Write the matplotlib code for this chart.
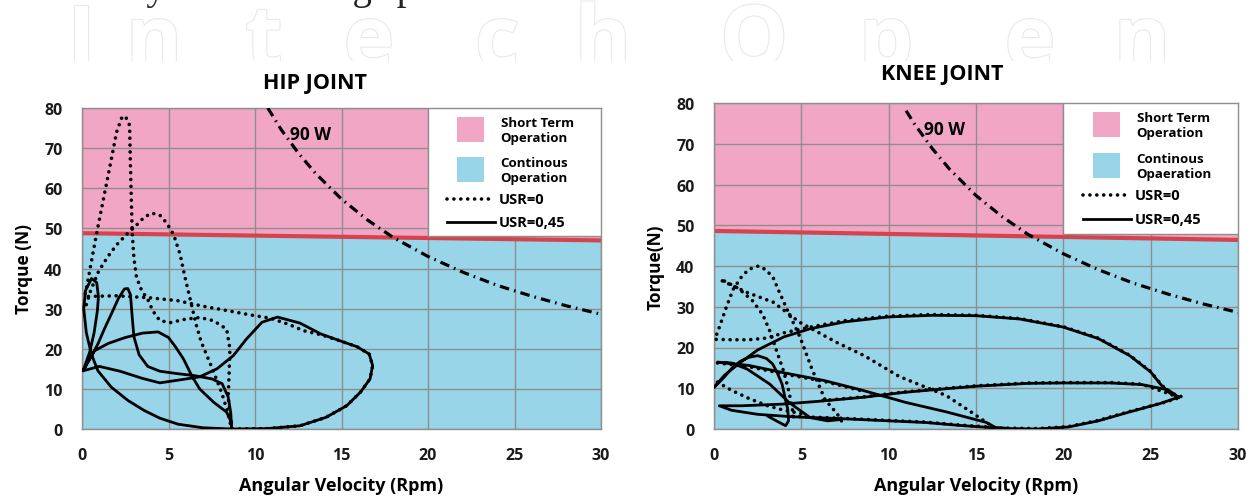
import matplotlib
matplotlib.use('Agg')
import matplotlib.pyplot as plt
import matplotlib.patheffects as pe
import numpy as np
from matplotlib.patches import Rectangle
from matplotlib.transforms import Bbox, TransformedBbox

plt.rcParams['font.family'] = ['Open Sans', 'DejaVu Sans']

nan = np.nan

x_ticks = [0, 5, 10, 15, 20, 25, 30]
y_ticks = [0, 10, 20, 30, 40, 50, 60, 70, 80]

# limit between short term and continuous operation (red line)
hip_limit_x = [0, 30]
hip_limit_y = [48.8, 47.0]
knee_limit_x = [0, 30]
knee_limit_y = [48.6, 46.4]

# 90 W constant power curve
hip_90w_x = [10.74, 11.5, 12.5, 13.5, 15, 16.5, 18, 20, 22, 24, 26, 28, 30]
hip_90w_y = [80.0, 74.7, 68.8, 63.7, 57.3, 52.1, 47.7, 43.0, 39.1, 35.8, 33.1, 30.7, 28.6]
knee_90w_x = [11.0, 11.5, 12.5, 13.5, 15, 16.5, 18, 20, 22, 24, 26, 28, 30]
knee_90w_y = [78.1, 74.7, 68.8, 63.7, 57.3, 52.1, 47.7, 43.0, 39.1, 35.8, 33.1, 30.7, 28.6]

# hip joint, USR=0,45 (solid)
hip_s_x = [8.65, 7.0, 5.55, 4.5, 3.6, 2.66, 1.7, 0.92, 0.54, 0.25, 0.1, 0.2, 0.55, 0.85, 0.95, 0.89, 0.7, 0.44,
           0.06, 0.5, 0.92, 1.3, 1.7, 2.1, 2.45, 2.65, 2.8, 2.9, 3.0, 3.3, 3.8, 4.5, 5.5, 6.5, 7.5, 8.1, 8.45,
           8.6, 8.65, 10.7, 12.6, 14.1, 15.3, 16.1, 16.65, 16.8, 16.6, 15.9, 14.9, 13.8, 12.6, 11.3, 10.4, 9.5,
           8.75, 7.8, 6.8, 5.6, 4.5, 3.5, 2.2, 1.0, 0.06, 0.4, 0.73, 1.5, 2.5, 3.5, 4.4, 5.0, 5.4, 5.86, 6.34,
           6.8, 7.6, 8.36, 8.6, 8.65]
hip_s_y = [0.0, 0.3, 1.2, 2.7, 4.6, 7.1, 10.4, 14.5, 18.7, 24.0, 30.0, 34.5, 37.5, 36.5, 33.0, 29.5, 24.0, 19.1,
           14.5, 17.8, 21.2, 25.0, 28.7, 32.5, 34.9, 35.0, 33.5, 28.0, 23.0, 18.5, 15.6, 14.4, 13.8, 13.3, 12.5,
           11.3, 8.0, 4.0, 0.0, 0.1, 0.8, 2.9, 5.8, 9.2, 12.5, 15.8, 18.7, 20.5, 22.0, 23.7, 26.4, 27.9, 26.6,
           22.4, 18.3, 15.0, 13.0, 12.2, 11.5, 12.6, 14.4, 15.6, 14.5, 17.2, 19.5, 21.3, 22.8, 23.9, 24.2, 22.8,
           20.5, 17.5, 13.3, 10.0, 6.7, 4.2, 2.0, 0.0]

# hip joint, USR=0 (dotted)
hip_d_x = [0.25, 0.5, 0.96, 1.5, 2.0, 2.6, 3.17, 3.6, 4.04, 4.5, 4.9, 5.3, 5.67, 5.96, 6.3, 6.6, 6.9, 7.5, 8.07,
           8.4, 8.65, 8.6, 8.45, 8.5, 8.55, 8.36, 7.6, 6.8, 5.9, 5.1, 4.5, 4.1, 3.8, 3.45, 3.15, 3.0, 2.9, 2.85,
           2.8, 2.75, 2.5, 2.3, 2.0, 1.63, 1.25, 0.87, 0.58, 0.3, 0.15, 2.0, 3.9, 5.5, 7.0, 8.4, 9.9, 10.9,
           12.0, 12.8, 13.8, 14.9, 15.9, 16.6, 16.8, 16.65, 16.1, 15.3, 14.1, 12.6, 10.7, 8.65]
hip_d_y = [31.0, 34.5, 39.3, 43.0, 45.9, 48.6, 50.9, 52.8, 53.8, 53.3, 51.3, 48.4, 43.5, 37.7, 31.5, 26.0, 21.6,
           15.4, 9.1, 4.5, 0.0, 2.0, 8.0, 13.3, 20.0, 24.9, 27.0, 27.8, 27.3, 26.5, 27.0, 29.4, 32.3, 34.5, 37.8,
           42.6, 49.3, 57.5, 65.8, 75.7, 78.0, 77.6, 74.0, 65.8, 57.5, 49.3, 42.6, 36.0, 33.0, 33.2, 32.7, 32.0,
           30.6, 29.5, 28.3, 27.6, 26.0, 24.5, 23.5, 22.0, 20.5, 18.7, 15.8, 12.5, 9.2, 5.8, 2.9, 0.8, 0.1, 0.0]

# knee joint, USR=0,45 (solid)
knee_s_x = [3.1, 3.7, 4.1, 4.27, 4.22, 4.05, 3.9, 3.6, 3.35, 3.0, 2.5, 2.0, 1.5, 1.0, 0.6, 0.0,
            0.6, 1.5, 2.5, 4.0, 5.5, 7.5, 10.0, 12.5, 15.0, 17.5, 20.0, 22.0, 23.8, 25.0, 25.6, 26.1, 26.6,
            25.5, 23.8, 22.0, 20.3, 18.5, 17.0, 16.1, 15.6, 13.3, 11.0, 8.5, 6.3, 4.0, 2.0, 0.2,
            1.0, 1.9, 3.2, 4.3, 5.5, 6.5, 7.2, nan,
            26.6, 26.0, 24.5, 22.7, 20.0, 18.0, 15.0, 12.5, 10.9, 8.6, 6.0, 3.9, 1.6, 0.3,
            1.0, 2.5, 4.5, 7.5, 10.0, 12.1, 14.0, 16.0]
knee_s_y = [3.1, 1.7, 0.8, 2.0, 4.9, 8.0, 11.0, 14.0, 16.0, 17.3, 18.0, 17.6, 16.6, 14.8, 12.8, 10.2,
            13.2, 16.3, 19.4, 22.6, 24.6, 26.3, 27.5, 27.9, 27.8, 27.0, 25.0, 22.2, 18.0, 14.0, 10.8, 8.8, 7.8,
            6.2, 4.2, 2.0, 0.5, 0.0, 0.1, 0.4, 1.6, 4.2, 6.5, 9.5, 11.9, 13.8, 15.6, 16.4,
            16.2, 14.7, 11.0, 6.5, 2.8, 2.0, 2.3, nan,
            7.8, 9.6, 10.9, 11.3, 11.3, 11.2, 10.5, 9.6, 9.0, 7.8, 6.8, 6.1, 5.7, 5.7,
            4.6, 3.6, 3.0, 2.5, 2.0, 1.6, 0.9, 0.3]

# knee joint, USR=0 (dotted)
knee_d_x = [7.3, 7.04, 6.37, 5.6, 4.93, 4.26, 3.7, 3.4, 3.0, 2.55, 2.0, 1.6, 1.1, 0.73, 0.34, 0.05,
            1.0, 2.0, 3.0, 4.0, 5.5, 7.5, 10.0, 12.5, 15.0, 17.5, 20.0, 22.0, 23.8, 25.0, 25.6, 26.1, 26.8,
            25.6, 23.8, 22.0, 20.3, 18.5, 17.0, 16.1,
            15.6, 14.5, 13.3, 10.6, 8.6, 7.0, 4.9, 3.4, 1.9, 1.0, 0.3, nan,
            0.6, 1.4, 2.2, 2.8, 3.2, 3.6, 4.0, 4.3, 4.5, 4.6, nan,
            0.2, 1.0, 2.0, 3.0, 4.0, 5.2, nan,
            26.6, 24.5, 22.7, 20.0, 18.0, 15.0, 12.5, 10.9, 8.6, 6.0, nan,
            4.5, 7.5, 10.0, 12.1, 14.0, 16.0, nan,
            0.2, 2.0, 4.0, 6.3, 8.5]
knee_d_y = [2.0, 3.8, 7.1, 14.8, 22.5, 28.6, 34.0, 37.0, 39.0, 40.0, 39.2, 37.5, 34.3, 30.2, 25.4, 22.0,
            21.9, 21.9, 22.3, 23.6, 25.0, 26.6, 27.7, 28.1, 27.9, 27.1, 25.1, 22.3, 18.1, 14.1, 10.9, 8.9, 7.9,
            6.3, 4.3, 2.1, 0.6, 0.1, 0.2, 0.2,
            1.6, 4.8, 8.2, 12.9, 18.0, 21.3, 26.2, 31.1, 33.5, 35.3, 36.7, nan,
            36.3, 34.5, 31.5, 28.0, 24.0, 19.0, 14.0, 9.0, 4.5, 2.0, nan,
            11.5, 9.5, 7.5, 5.8, 4.6, 3.6, nan,
            7.8, 11.0, 11.4, 11.4, 11.3, 10.6, 9.7, 9.1, 7.9, 6.9, nan,
            3.1, 2.6, 2.1, 1.7, 1.0, 0.4, nan,
            16.2, 15.3, 13.5, 11.7, 9.3]

key_labels = ['Short Term\nOperation', 'USR=0', 'USR=0,45']
hip_cont_label = 'Continous\nOperation'
knee_cont_label = 'Continous\nOpaeration'

PINK = '#F2A6C5'
BLUE = '#98D5E8'
RED = '#D6434C'
GRID = '#8E8E8E'
DOTS = (0, (0.01, 1.9))


def draw_joint(ax, title, ylabel, limit_x, limit_y, p_x, p_y, s_x, s_y, d_x, d_y, cont_label, title_pos):
    ax.set_xlim(0, 30)
    ax.set_ylim(0, 80)
    ax.fill_between(limit_x, limit_y, 80, color=PINK, lw=0, zorder=0.5)
    ax.fill_between(limit_x, 0, limit_y, color=BLUE, lw=0, zorder=0.5)
    ax.plot(limit_x, limit_y, color=RED, lw=3, zorder=2.2, solid_capstyle='butt')

    ax.set_xticks(x_ticks)
    ax.set_yticks(y_ticks)
    ax.grid(True, color=GRID, lw=1.0)
    ax.tick_params(length=0, labelsize=11.5, colors='#1a1a1a')
    ax.tick_params(axis='x', pad=13)
    ax.tick_params(axis='y', pad=14)
    for lab in ax.get_xticklabels() + ax.get_yticklabels():
        lab.set_fontweight('bold')
    for sp in ax.spines.values():
        sp.set_color(GRID)
        sp.set_linewidth(1.0)

    # power curve
    ax.plot(p_x, p_y, color='black', lw=2.3, linestyle=(0, (3.0, 1.6, 0.5, 1.6)), zorder=3)
    ax.text(12.0, 73.6, '90 W', fontsize=12.5, fontweight='bold', va='center', ha='left', zorder=3)

    # torque-speed loops
    ax.plot(d_x, d_y, color='black', lw=2.6, linestyle=DOTS, dash_capstyle='round', zorder=3)
    ax.plot(s_x, s_y, color='black', lw=2.0, zorder=3.1, solid_joinstyle='round')

    # legend box sitting on the red line
    box_bottom = np.interp(20, limit_x, limit_y) + 0.6
    ax.add_patch(Rectangle((20, box_bottom), 10, 80 - box_bottom, facecolor='white',
                           edgecolor=GRID, lw=1.0, zorder=4))
    ax.add_patch(Rectangle((21.7, 71.6), 1.55, 6.2, facecolor=PINK, lw=0, zorder=4.1))
    ax.add_patch(Rectangle((21.7, 61.6), 1.55, 6.2, facecolor=BLUE, lw=0, zorder=4.1))
    ax.text(24.2, 74.6, key_labels[0], fontsize=9.5, fontweight='bold', va='center',
            linespacing=1.2, zorder=4.2)
    ax.text(24.2, 64.6, cont_label, fontsize=9.5, fontweight='bold', va='center',
            linespacing=1.2, zorder=4.2)
    ax.plot([21.1, 23.7], [57.4, 57.4], color='black', lw=2.6, linestyle=DOTS,
            dash_capstyle='round', zorder=4.2)
    ax.text(24.1, 57.4, key_labels[1], fontsize=10.5, fontweight='bold', va='center', zorder=4.2)
    ax.plot([21.1, 23.9], [51.6, 51.6], color='black', lw=2.0, zorder=4.2)
    ax.text(24.1, 51.6, key_labels[2], fontsize=10.5, fontweight='bold', va='center', zorder=4.2)

    ax.text(title_pos[0], title_pos[1], title, transform=ax.transAxes, fontsize=15.5,
            fontweight='bold', ha='center', va='center')
    ax.set_xlabel('Angular Velocity (Rpm)', fontsize=13, fontweight='bold', labelpad=9)
    ax.set_ylabel(ylabel, fontsize=12.5, fontweight='bold', labelpad=8)


fig = plt.figure(figsize=(12.57, 5.02), dpi=100)

# clipped caption line and faint watermark at the top of the page
fig.text(0.004, 1 + 0.5 / 502, 'and 0.5 cycle/s walking speed.', fontsize=28,
         family=['Liberation Serif', 'DejaVu Serif'], va='baseline', ha='left', color='#222222')
clip = TransformedBbox(Bbox([[0, 1 - 62 / 502], [1, 1]]), fig.transFigure)
wm_letters = list('IntechOpen')
wm_px = [82, 154, 264, 369, 497, 603, 754, 886, 1030, 1142]
for ch, px in zip(wm_letters, wm_px):
    t = fig.text(px / 1257, 1 - 68 / 502, ch, fontsize=62, fontweight='bold',
                 family=['Open Sans', 'DejaVu Sans'], ha='center', va='baseline', color='white',
                 path_effects=[pe.Stroke(linewidth=1.6, foreground='#e9e9e9'), pe.Normal()])
    t.set_clip_box(clip)
    t.set_clip_on(True)

ax_hip = fig.add_axes([82 / 1257, 1 - 430 / 502, 519 / 1257, 321 / 502])
ax_knee = fig.add_axes([714 / 1257, 1 - 430 / 502, 524 / 1257, 326 / 502])

draw_joint(ax_hip, 'HIP JOINT', 'Torque (N)', hip_limit_x, hip_limit_y, hip_90w_x, hip_90w_y,
           hip_s_x, hip_s_y, hip_d_x, hip_d_y, hip_cont_label, (0.449, 1.078))
draw_joint(ax_knee, 'KNEE JOINT', 'Torque(N)', knee_limit_x, knee_limit_y, knee_90w_x, knee_90w_y,
           knee_s_x, knee_s_y, knee_d_x, knee_d_y, knee_cont_label, (0.435, 1.089))

fig.savefig('out.png', dpi=100)
